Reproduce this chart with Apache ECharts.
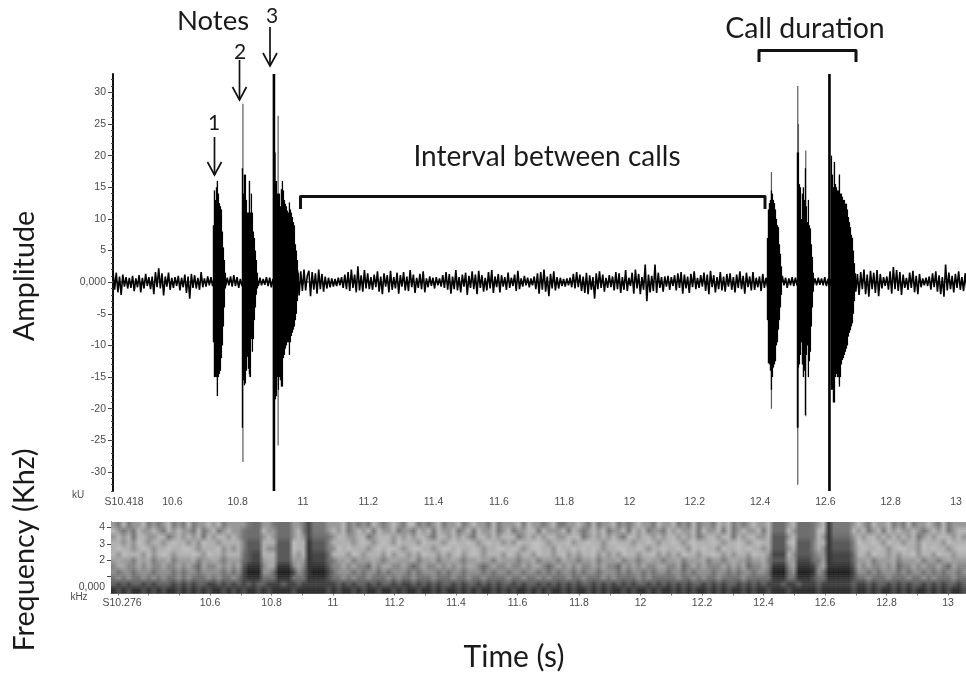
<!DOCTYPE html>
<html><head><meta charset="utf-8">
<style>html,body{margin:0;padding:0;background:#fff}#c{width:966px;height:677px}</style>
<script src="https://cdn.jsdelivr.net/npm/echarts@6/dist/echarts.min.js"></script>
</head><body><div id="c"></div>
<script>
// ---- oscillogram: background noise trace (kU), one value per 0.005 s from 10.418 s
const traceStart = 10.418, traceStep = 0.005;
const amplitudeTrace = [
1.8,-1.2,1.5,-1.6,.9,-2,1.2,-.7,.8,-1,.7,-.9,1,-1.4,.6,-.8,1.1,-1.6,.7,-1,
1.3,-.6,.8,-1.1,.9,-1.9,1.6,-.8,2.2,-1,1.4,-2.1,.9,-.7,1.5,-1.2,.7,-.9,.8,-.6,
1,-1.3,.7,-.8,1.2,-1.7,.9,-2.6,1.3,-.9,1.1,-1,.7,-1.2,1.6,-.8,.6,-.7,.9,-.5,
.8,-.6,.7,-.8,.9,-.7,.6,-.5,.8,-.6,.7,-.5,.9,-.7,1.1,-.6,.8,-.9,.5,-.6,
.6,-.5,.6,-.5,.7,-.6,.7,-.5,.9,-.6,.7,-.5,.5,-.4,.8,-.6,.7,-.8,.5,-.6,
.6,-.5,.6,-.4,.7,-.5,.8,-.6,.7,-.5,.9,-.6,.8,1.9,-2.1,1.7,-1.4,2,-1.3,1,
1.8,-2.2,1.6,-1.2,1.4,-1.8,2,-1.1,1.3,-1.5,.9,-1,.7,-.8,.6,-.7,.5,-.6,.7,-.5,
.8,-.9,1.2,-1.1,1.6,-1.4,2,-.9,1.2,-1.6,2.5,-1.3,1.1,-1.5,1.9,-1,1.4,-1.1,.8,-1.2,
1.2,-.8,1.7,-1.5,.9,-1.9,1.4,-.7,1.1,-1.6,1.8,-1.2,.8,-1,1.5,-1.8,1.1,-.7,1.6,-1.3,
.9,-1.4,1.9,-.8,1.2,-1.7,.7,-.9,1.3,-1.1,1.7,-1.6,.6,-.8,.9,-.6,.7,-1,.8,-.5,
.6,-.7,1.1,-.9,1.6,-1.2,1.3,-1.8,.9,-1.1,1.9,-1.3,.8,-1.6,1.2,-.7,1.5,-2,1,-.9,
1.7,-1.1,1.2,-1.9,1.8,-.9,1.1,-1.5,.7,-1.3,1.6,-1,1.9,-1.7,.9,-.8,1.3,-1.6,1.1,-.7,
.8,-1.2,1.5,-.9,.7,-.6,1.2,-1.4,1.8,-1.1,.6,-.7,1,-.5,.7,-.8,.6,-.5,.9,-1.1,
1.4,-1.8,1.6,-1.2,2,-1.5,.9,-2.2,1.3,-1,1.7,-1.3,.8,-1,.7,-.6,.5,-.7,.6,-.5,
.7,-.8,1.3,-1,1.6,-.8,1.2,-1.4,.9,-1.7,1.5,-1.9,1.1,-1.2,.8,-2.6,1.4,-1.1,1.7,-.9,
1.2,-1.5,.7,-.9,1.1,-.8,.9,-1.3,1.6,-1.1,1.4,-1.7,.8,-1.2,1.9,-1.4,.7,-.6,1.5,-1.8,
2,-1,1.3,-1.9,.8,-1.2,2.8,-3,1.2,-1.6,1,-1.4,2.8,-1.7,1.5,-.9,.8,-1.5,.9,-.7,
1,-1.2,.8,-.6,1.1,-1.3,1.4,-.9,1.6,-1.8,1.2,-1,.9,-1.7,1.3,-.8,1.7,-1.1,.7,-.9,
1.1,-.7,1.5,-1.4,1.2,-1.9,1.8,-.8,1.1,-1.6,.8,-1.1,1.6,-1.3,.9,-1.5,1.3,-.7,1.4,-1.2,
.8,-1.6,1.2,-.9,1.7,-1.1,1,-1.8,1.5,-.8,.9,-1.3,1.6,-1.2,.7,-.8,.9,-1.4,1.3,-.9,
.7,-.8,.8,-1.2,1.6,-1,.6,-.6,.8,-.7,1,-.5,.7,-.9,.6,-.5,.8,-.6,.7,-.5,
.6,-.5,.7,-.6,.5,-.4,.9,-.6,.7,-.5,.6,-.5,.7,-.4,.6,-.5,.8,-.6,.5,-.7,
.5,-.6,.4,-.5,.7,-.6,.5,-.4,.6,-.5,.7,-.6,1.1,-.9,1.7,-1.5,1.3,-2,1.6,-1.1,
2,-1.9,1.2,-2.3,1.8,-1.1,1.5,-1.7,1.9,-2.2,1.3,-1,.8,-.6,.9,-1.2,1.7,-1.8,2.4,-1.1,
1.9,-1.4,1.6,-2,1.2,-.9,.7,-1.2,1.5,-.9,1.8,-1.6,1,-1.9,1.3,-.8,.6,-.5,.7,-.6,
.9,-1.2,1.4,-.8,1.7,-1.5,1.1,-1.9,.8,-2.3,2.8,-1.3,1.5,-1.1,1,-1.6,1.3,-.9,1.7,-1.2,
.8,-1.4,1.4,-1.1,.7,-.9,1.2,-1.6,1.6,-.8,.9,-1.7
];

// ---- oscillogram: the six notes, one column per noteStep seconds
const noteStep = 0.00306;
const noteStarts = [10.7256, 10.8144, 10.9155, 12.4224, 12.5142, 12.6184];
const noteHigh1 = [9,14.5,13,15,16,14,12.5,12,11.5,8,5.5,3.5,1.5];
const noteLow1  = [-9.5,-15,-15,-15,-18,-15,-14.5,-14,-12,-10,-7,-4,-1];
const noteHigh2 = [18,14,17,17,13,11,11,16,11,14,11,8,7,5,3.5,1.5];
const noteLow2  = [-23,-15.5,-16.3,-16,-14,-11.8,-13.7,-14.5,-15,-9,-11,-9,-6,-4,-2,-1];
const noteHigh3 = [16,16,14,14,14,12,14.7,16,14.5,13,12.4,12,11.3,11,12.6,11.5,11,10.3,9.5,9,6,5,3.5,1.5];
const noteLow3  = [-18.5,-18,-15,-17,-15,-15.5,-16.5,-16.5,-12,-11.5,-10.5,-10,-9.5,-9.5,-11.5,-9.5,-8.5,-8,-7.5,-7,-6,-5,-3,-1];
const noteHigh4 = [7,11.5,12.5,13,14.5,14,13,12.5,11.5,10,9,8.7,6,4.5,2.5];
const noteLow4  = [-6,-12.8,-13,-14,-17,-15,-13.5,-13,-12.5,-10,-9.5,-7.5,-6,-4,-2];
const noteHigh5 = [20.5,20.5,15.5,15,10,14,15,13,18,12,9.5,13,9,8.5,6,4,1.5];
const noteLow5  = [-23,-13.5,-13,-11.5,-9.5,-13,-15,-14,-21,-11.5,-10,-15,-12.5,-11,-7,-4,-1.5];
const noteHigh6 = [20,17,15,19,15.5,15,14.5,14.5,17,14,14,13.5,13,13,12.4,12.4,11.5,10.3,9.5,8.7,7.5,7,5,3,1.4];
const noteLow6  = [-17,-17,-19,-19,-15,-14.5,-15,-15,-16.5,-15,-13,-12.3,-12,-11.5,-11,-10.5,-10,-8.6,-8,-7.6,-7,-6.5,-5,-3,-1];
const noteHighs = [noteHigh1,noteHigh2,noteHigh3,noteHigh4,noteHigh5,noteHigh6];
const noteLows  = [noteLow1,noteLow2,noteLow3,noteLow4,noteLow5,noteLow6];

// thin grey spikes that rise over the notes
const spikeTimes = [10.7378,10.8159,10.8362,10.9155,10.9237,12.4346,12.5152,12.5173,12.5397,12.6276,12.6429];
const spikeHigh  = [16,28.2,16,20.5,26.3,17.4,31,25,20.8,19,17];
const spikeLow   = [-18,-28.4,-15,-18.5,-25.8,-20,-32,-23,-21.2,-19,-16];
// the two clipped full-scale onsets
const peakTimes = [10.9109,12.6123];
const peakHigh  = [32.9,32.9];
const peakLow   = [-33,-33];

// ---- axes
const waveLabelValues = [10.452,10.6,10.8,11,11.2,11.4,11.6,11.8,12,12.2,12.4,12.6,12.8,13];
const waveTickValues = [10.5,10.6,10.7,10.8,10.9,11,11.1,11.2,11.3,11.4,11.5,11.6,11.7,11.8,11.9,12,12.1,12.2,12.3,12.4,12.5,12.6,12.7,12.8,12.9,13];
const ampLabels = [-30,-25,-20,-15,-10,-5,0,5,10,15,20,25,30];
const ampMinorTicks = [-33,-32,-31,-30,-29,-28,-27,-26,-25,-24,-23,-22,-21,-20,-19,-18,-17,-16,-15,-14,-13,-12,-11,-10,-9,-8,-7,-6,-5,-4,-3,-2,-1,0,1,2,3,4,5,6,7,8,9,10,11,12,13,14,15,16,17,18,19,20,21,22,23,24,25,26,27,28,29,30,31,32];
const specLabelValues = [10.314,10.6,10.8,11,11.2,11.4,11.6,11.8,12,12.2,12.4,12.6,12.8,13];
const specTickValues = [10.3,10.4,10.5,10.6,10.7,10.8,10.9,11,11.1,11.2,11.3,11.4,11.5,11.6,11.7,11.8,11.9,12,12.1,12.2,12.3,12.4,12.5,12.6,12.7,12.8,12.9,13];
const freqLabels = [0,2,3,4];
const freqTicks = [1,2,3,4];

// ---- spectrogram: darkness levels 0 (black) to 9 (light); top row first, one digit per column
const specStart = 10.278, specColumn = 0.01626, specTop = 4.33, specRow = 0.361;
const spectrogramRows = [
"6575667565 6756575667 6756666544 6654446652 5556667565 6576567657 7565675667 5676657566 6757665675 5667657566 7565676657 6675657566 5767565676 6744467444 5671555567 6576675657 5667657566 6",
"7656576676 5767665756 7567665444 7664446752 5556767567 6757667566 5767576675 6757667567 5667757666 7576567675 6675767566 5767667576 6757567667 5744476444 5771555576 7567576766 7656767567 7",
"6767577667 7567676757 6776765444 6764446762 4445677667 7567776767 6776577676 7657767677 7567676776 6777567676 7657767767 6776767567 7677576776 6733367444 5761444467 6776767676 7567677767 6",
"7767687677 6787767687 7677775333 7773338771 3335777767 8767876877 7687776787 7876787767 6877887677 7867787767 8777677876 7787678777 8767787678 7733378333 5771333358 7787687767 7687776877 7",
"7877678767 7877887677 7867675333 7663338771 3335687877 7678788767 8877678878 7787677887 8767887768 7787878767 7887787677 8778768787 7687787877 6733367333 5761333357 8778767887 7687877678 8",
"7687776867 8767778768 7767775322 7773337671 2224777687 6777686776 7687767678 6787677768 7677687767 8676778676 7687767786 7676877677 8767677687 7622276333 5661222247 7687767677 8677687767 7",
"6766576756 6756667566 7656664322 6773336661 2224566756 6676567666 7566756676 5667665766 6566756665 7665667566 6756656766 5667566675 6656766566 7533366222 4561222246 6756667566 6756656766 6",
"5665565655 6556565465 5656563111 5661115651 1113556565 5465665565 4565565656 5665456556 5565665456 5656556565 5465656556 6556456565 5565656455 6511156111 2561111136 5655656455 6565565465 5",
"5455455545 5545455455 5545452000 5540002541 0002455545 4554545554 5455545455 4555454554 5545545454 5545455455 5454554545 5455454555 4554545545 5400045000 1540000025 5454555454 5545454554 5",
"4545445454 5445454445 4544542111 4441114441 1113445454 4544454544 5444544454 4544544445 4454454544 4544544454 5444454544 4445445454 4544445444 4411144111 3441111134 4544454445 4454544454 4",
"3232332323 3323232332 2323232323 3222322322 2222232323 3232332322 3232323323 2332323233 2323323232 3232332323 2323233232 3232323323 2323323232 3222322322 2322222232 2323323232 3323232332 3",
"1212112121 2112121212 1121212112 1211112111 1112121121 2112112121 1211212112 1212112121 2112121211 2121121212 1121211212 1121212112 1212112121 1211121111 1211111121 1212112121 2112121211 2"
];

// ---- build series data
const traceData = amplitudeTrace.map((a,i)=>[traceStart+i*traceStep,a]);
const noteData = [];
noteStarts.forEach((s,n)=>noteHighs[n].forEach((h,i)=>noteData.push([s+i*noteStep,h,noteLows[n][i]])));
const spikeData = spikeTimes.map((t,i)=>[t,spikeHigh[i],spikeLow[i]]);
const peakData = peakTimes.map((t,i)=>[t,peakHigh[i],peakLow[i]]);

// each cell is shaded softly toward its neighbours so the picture reads as a sonogram, not as blocks
const specGrid = spectrogramRows.map(r=>r.replace(/\s/g,'').split('').map(Number));
const rowMeans = specGrid.map(r=>r.reduce((a,b)=>a+b,0)/r.length);
const contrast = (r,c)=>{
  const d=specGrid[r][c], m=rowMeans[r];
  return Math.abs(d-m)<=1.3 ? m+1.6*(d-m) : d;
};
const specData = [];
const bands = 3;
const shade = (fr,c)=>{
  const r0=Math.max(0,Math.floor(fr)), r1=Math.min(specGrid.length-1,r0+1), w=Math.max(0,Math.min(1,fr-r0));
  const col=Math.max(0,Math.min(specGrid[0].length-1,c));
  return contrast(r0,col)*(1-w)+contrast(r1,col)*w;
};
for(let r=0;r<specGrid.length;r++) for(let k=0;k<bands;k++){
  const fr=r-0.5+(k+0.5)/bands;
  const f=specTop-(r+k/bands)*specRow;
  specData.push([specStart,f,shade(fr,0),shade(fr,0),0.5]);
  for(let c=0;c<specGrid[0].length;c++){
    specData.push([specStart+(c+0.5)*specColumn,f,shade(fr,c),shade(fr,c+1),1]);
  }
}

const tickFont = {fontFamily:'"Liberation Sans",Arial,sans-serif',fontSize:10.5,color:'#4a4a4a'};
function vbar(width,color){
  return (params,api)=>{
    const a=api.coord([api.value(0),api.value(1)]), b=api.coord([api.value(0),api.value(2)]);
    const w = width==='step' ? api.size([noteStep,0])[0]+0.3 : width;
    return {type:'rect',shape:{x:a[0]-w/2,y:a[1],width:w,height:b[1]-a[1]},style:{fill:color}};
  };
}
const grey = d=>{const g=Math.max(20,Math.min(225,Math.round(30+20*d)));return `rgb(${g},${g},${g})`;};
function specCell(params,api){
  const p=api.coord([api.value(0),api.value(1)]), s=api.size([specColumn*api.value(4),specRow/bands]);
  return {type:'rect',shape:{x:p[0],y:p[1],width:s[0]+0.5,height:s[1]+0.5},
    style:{fill:{type:'linear',x:0,y:0,x2:1,y2:0,colorStops:[{offset:0,color:grey(api.value(2))},{offset:1,color:grey(api.value(3))}]}}};
}

// ---- annotations
const ann = '"Lato","Carlito","Open Sans",sans-serif';
function label(text,x,y,size,rot){
  return {type:'text',x,y,rotation:rot||0,style:{text,fill:'#1a1a1a',font:`${size}px ${ann}`,textAlign:'center',textVerticalAlign:'middle'}};
}
function small(text,x,y){
  return {type:'text',x,y,style:{text,fill:'#4a4a4a',font:'10px "Liberation Sans",Arial,sans-serif',textAlign:'center',textVerticalAlign:'middle'}};
}
function arrow(x,y0,y1){
  return [{type:'line',shape:{x1:x,y1:y0,x2:x,y2:y1},style:{stroke:'#111',lineWidth:1.7}},
    {type:'polyline',shape:{points:[[x-7,y1-13],[x,y1],[x+7,y1-13]]},style:{stroke:'#111',lineWidth:1.7,fill:'none'}}];
}
function bracket(x0,x1,y,yEnd){
  return {type:'polyline',shape:{points:[[x0,yEnd],[x0,y],[x1,y],[x1,yEnd]]},style:{stroke:'#111',lineWidth:3,lineJoin:'round',fill:'none'}};
}
const graphics = [
  label('Notes',213,21,27.5),
  label('3',272,16,21),label('2',240,52,21),label('1',214,123,21),
  ...arrow(270,27,66),...arrow(239.5,60,100),...arrow(214.5,137,175),
  label('Call duration',805,29,28.5),
  bracket(759,856,50.5,62),
  label('Interval between calls',547,157,28),
  bracket(300.5,765,196.5,209),
  label('Amplitude',25,276,28.7,Math.PI/2),
  label('Frequency (Khz)',25,550,28.8,Math.PI/2),
  label('Time (s)',514,657,30),
  small('kU',78,495),small('kHz',79,597)
];

const chart = echarts.init(document.getElementById('c'),null,{renderer:'canvas'});
chart.setOption({
  animation:false,
  backgroundColor:'#fff',
  graphic:{elements:graphics},
  grid:[
    {left:113,top:74,width:853,height:417,containLabel:false},
    {left:111,top:522,width:855,height:71,containLabel:false}
  ],
  xAxis:[
    {type:'value',gridIndex:0,min:10.418,max:13.0305,splitLine:{show:false},
     axisLine:{lineStyle:{color:'#888',width:1.5}},
     axisTick:{show:true,customValues:waveTickValues,length:2.5,lineStyle:{color:'#555',width:1}},
     axisLabel:{show:true,customValues:waveLabelValues,margin:6,...tickFont,
       formatter:v=>v<10.5?'S10.418':String(v)}},
    {type:'value',gridIndex:1,min:10.278,max:13.0585,splitLine:{show:false},
     axisLine:{lineStyle:{color:'#888',width:1}},
     axisTick:{show:true,customValues:specTickValues,length:2.5,lineStyle:{color:'#777',width:1}},
     axisLabel:{show:true,customValues:specLabelValues,margin:5,...tickFont,
       formatter:v=>v<10.5?'S10.276':String(v)}}
  ],
  yAxis:[
    {type:'value',gridIndex:0,min:-33,max:32.9,splitLine:{show:false},
     axisLine:{show:true,lineStyle:{color:'#111',width:2}},
     axisTick:{show:true,customValues:ampMinorTicks,length:2,lineStyle:{color:'#444',width:1}},
     axisLabel:{show:false}},
    {type:'value',gridIndex:0,min:-33,max:32.9,splitLine:{show:false},position:'left',
     axisLine:{show:false},
     axisTick:{show:true,customValues:ampLabels,length:5,lineStyle:{color:'#444',width:1}},
     axisLabel:{show:true,customValues:ampLabels,margin:7,...tickFont,
       formatter:v=>v===0?'0,000':String(v)}},
    {type:'value',gridIndex:1,min:0,max:4.33,splitLine:{show:false},
     axisLine:{show:true,lineStyle:{color:'#222',width:1}},
     axisTick:{show:true,customValues:freqTicks,length:4,lineStyle:{color:'#444',width:1}},
     axisLabel:{show:true,customValues:freqLabels,margin:6,verticalAlignMinLabel:'bottom',...tickFont,
       formatter:v=>v===0?'0,000':String(v)}}
  ],
  series:[
    {type:'custom',name:'spectrogram',xAxisIndex:1,yAxisIndex:2,data:specData,renderItem:specCell,clip:true,silent:true},
    {type:'line',name:'waveform noise',xAxisIndex:0,yAxisIndex:0,data:traceData,showSymbol:false,sampling:false,
     lineStyle:{color:'#000',width:1.6,join:'bevel'},z:3,silent:true},
    {type:'custom',name:'note spikes',xAxisIndex:0,yAxisIndex:0,data:spikeData,renderItem:vbar(1.2,'#5a5a5a'),z:2,silent:true},
    {type:'custom',name:'notes',xAxisIndex:0,yAxisIndex:0,data:noteData,renderItem:vbar('step','#000'),z:4,silent:true},
    {type:'custom',name:'note onsets',xAxisIndex:0,yAxisIndex:0,data:peakData,renderItem:vbar(2.6,'#000'),z:5,silent:true}
  ]
});
</script></body></html>
